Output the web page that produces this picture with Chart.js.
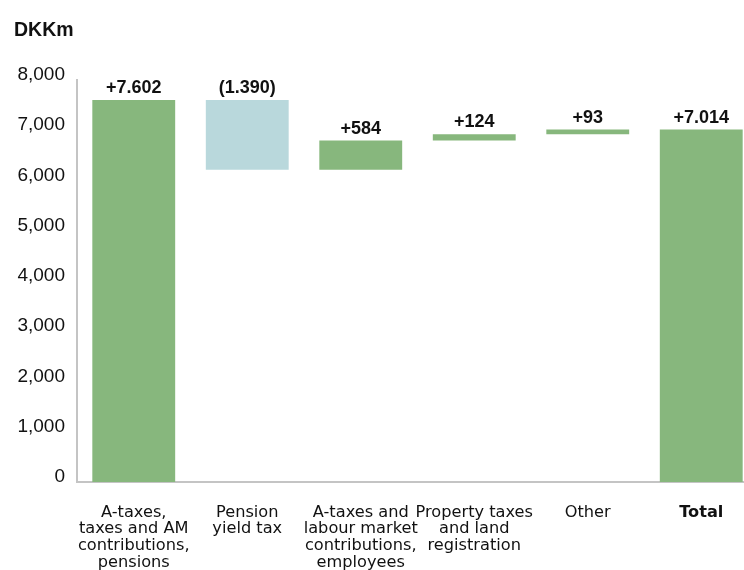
<!DOCTYPE html>
<html>
<head>
<meta charset="utf-8">
<script src="https://cdn.jsdelivr.net/npm/chart.js@4/dist/chart.umd.min.js"></script>
<style>
html,body{margin:0;padding:0;overflow:hidden;background:#fff;}
#wrap{width:760px;height:570px;}
</style>
</head>
<body>
<div id="wrap"><canvas id="c" width="760" height="570"></canvas></div>
<script>
const categories = [
  ["A-taxes,", "taxes and AM", "contributions,", "pensions"],
  ["Pension", "yield tax"],
  ["A-taxes and", "labour market", "contributions,", "employees"],
  ["Property taxes", "and land", "registration"],
  ["Other"],
  ["Total"]
];
const changes = [7602, -1390, 584, 124, 93];
const total = 7014;
const valueLabels = ["+7.602", "(1.390)", "+584", "+124", "+93", "+7.014"];
const yTicks = [0, 1000, 2000, 3000, 4000, 5000, 6000, 7000, 8000];
const unitLabel = "DKKm";

const GREEN = "#87b77d";
const BLUE = "#b9d8dc";

// floating bars built from the changes
const ranges = [];
let run = 0;
changes.forEach(v => { ranges.push([run, run + v]); run += v; });
ranges.push([0, total]);
const colors = changes.map(v => v < 0 ? BLUE : GREEN).concat([GREEN]);

const labelPlugin = {
  id: 'valueLabels',
  afterDatasetsDraw(chart) {
    const ctx = chart.ctx;
    const meta = chart.getDatasetMeta(0);
    ctx.save();
    ctx.font = "bold 18px 'Liberation Sans', Arial, sans-serif";
    ctx.fillStyle = "#111";
    ctx.textAlign = "center";
    ctx.textBaseline = "alphabetic";
    meta.data.forEach((bar, i) => {
      const top = Math.min(bar.y, bar.base);
      ctx.fillText(valueLabels[i], bar.x, top - 7);
    });
    ctx.font = "bold 19.5px 'Liberation Sans', Arial, sans-serif";
    ctx.textAlign = "left";
    ctx.fillText(unitLabel, 14, 36);
    ctx.restore();
  }
};

new Chart(document.getElementById('c'), {
  type: 'bar',
  data: {
    labels: categories,
    datasets: [{
      data: ranges,
      backgroundColor: colors,
      borderWidth: 0,
      barPercentage: 0.73,
      categoryPercentage: 1.0
    }]
  },
  options: {
    responsive: false,
    animation: false,
    layout: { padding: { top: 80, right: 2, left: 0, bottom: 0 } },
    plugins: { legend: { display: false }, tooltip: { enabled: false }, title: { display: false } },
    scales: {
      x: {
        grid: { display: false, drawTicks: false },
        border: { display: true, color: "#c4c4c4", width: 2 },
        ticks: {
          maxRotation: 0,
          autoSkip: false,
          padding: 22,
          color: "#111",
          font: (c) => ({ family: "'DejaVu Sans', sans-serif", size: 16.2, lineHeight: 1.03, weight: c.index === 5 ? 'bold' : 'normal' })
        },
        afterFit(scale) { scale.height = 88; }
      },
      y: {
        min: 0, max: 8000,
        afterBuildTicks(scale) { scale.ticks = yTicks.map(v => ({ value: v })); },
        grid: { display: false, drawTicks: false },
        border: { display: true, color: "#c4c4c4", width: 2 },
        ticks: {
          padding: 12,
          color: "#111",
          font: { family: "'Liberation Sans', Arial, sans-serif", size: 19, lineHeight: 0.55 },
          callback: (v) => [Number(v).toLocaleString('en-US'), ""]
        },
        afterFit(scale) { scale.width = 77; }
      }
    }
  },
  plugins: [labelPlugin]
});
</script>
</body>
</html>
